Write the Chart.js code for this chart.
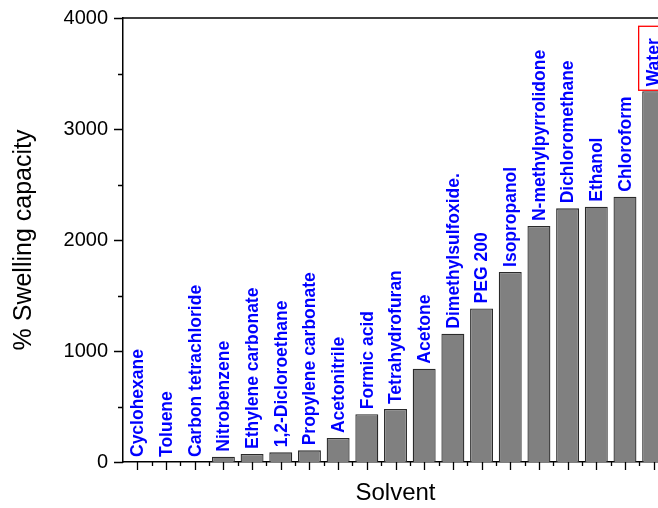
<!DOCTYPE html>
<html>
<head>
<meta charset="utf-8">
<script src="https://cdn.jsdelivr.net/npm/chart.js@4/dist/chart.umd.min.js"></script>
<style>
  html, body { margin: 0; padding: 0; background: #fff; overflow: hidden; width: 658px; height: 508px; }
  #wrap { width: 680px; height: 508px; }
  canvas { display: block; }
</style>
</head>
<body>
<div id="wrap"><canvas id="c" width="680" height="508"></canvas></div>
<script>
const categories = ["Cyclohexane","Toluene","Carbon tetrachloride","Nitrobenzene","Ethylene carbonate","1,2-Dicloroethane","Propylene carbonate","Acetonitrile","Formic acid","Tetrahydrofuran","Acetone","Dimethylsulfoxide.","PEG 200","Isopropanol","N-methylpyrrolidone","Dichloromethane","Ethanol","Chloroform","Water"];
const swelling = [0, 0, 0, 48, 72, 87, 105, 216, 430, 477, 841, 1156, 1384, 1712, 2126, 2285, 2300, 2390, 3340];
const yMajorTicks = [0, 1000, 2000, 3000, 4000];
const yMinorTicks = [500, 1500, 2500, 3500];
const boxedLabels = ["Water"];

const FONT = "'Liberation Sans', Arial, Helvetica, sans-serif";

const decor = {
  id: 'decor',
  afterDraw(chart) {
    const ctx = chart.ctx;
    const ca = chart.chartArea;
    const xs = chart.scales.x, ys = chart.scales.y;
    ctx.save();
    ctx.strokeStyle = '#000';
    ctx.lineWidth = 1.5;
    ctx.beginPath();
    ctx.moveTo(ca.left, ca.top); ctx.lineTo(ca.right, ca.top); ctx.lineTo(ca.right, ca.bottom);
    ctx.stroke();
    ctx.lineWidth = 1.3;
    ctx.beginPath();
    yMajorTicks.forEach(v => { const y = Math.round(ys.getPixelForValue(v)) + 0.5; ctx.moveTo(ca.left - 9, y); ctx.lineTo(ca.left, y); });
    yMinorTicks.forEach(v => { const y = Math.round(ys.getPixelForValue(v)) + 0.5; ctx.moveTo(ca.left - 5, y); ctx.lineTo(ca.left, y); });
    ctx.stroke();
    const c0 = xs.getPixelForValue(0), c1 = xs.getPixelForValue(1);
    const half = (c1 - c0) / 2;
    ctx.beginPath();
    categories.forEach((_, i) => {
      const x = Math.round(xs.getPixelForValue(i)) + 0.5;
      ctx.moveTo(x, ca.bottom); ctx.lineTo(x, ca.bottom + 8);
      const b = Math.round(xs.getPixelForValue(i) + half) + 0.5;
      ctx.moveTo(b, ca.bottom); ctx.lineTo(b, ca.bottom + 4);
    });
    ctx.stroke();
    const meta = chart.getDatasetMeta(0);
    ctx.font = "bold 17.5px " + FONT;
    ctx.fillStyle = '#0000ff';
    ctx.textAlign = 'left';
    ctx.textBaseline = 'middle';
    meta.data.forEach((bar, i) => {
      const x = bar.x;
      const y = ys.getPixelForValue(swelling[i]) - 5;
      const label = categories[i];
      ctx.save();
      ctx.translate(x, y);
      ctx.rotate(-Math.PI / 2);
      ctx.fillText(label, 0, 1);
      ctx.restore();
      if (boxedLabels.includes(label)) {
        const w = ctx.measureText(label).width;
        ctx.save();
        ctx.strokeStyle = '#ff0000';
        ctx.lineWidth = 1.3;
        ctx.strokeRect(x - 15, y - w - 12, 32, w + 16);
        ctx.restore();
      }
    });
    ctx.restore();
  }
};

new Chart(document.getElementById('c'), {
  type: 'bar',
  data: {
    labels: categories,
    datasets: [{
      data: swelling,
      backgroundColor: '#808080',
      borderColor: '#2a2a2a',
      borderWidth: 1.3,
      categoryPercentage: 1.0,
      barPercentage: 0.8
    }]
  },
  options: {
    responsive: false,
    devicePixelRatio: 1,
    animation: false,
    layout: { padding: { top: 18, right: 12, left: 0, bottom: 0 } },
    plugins: { legend: { display: false }, tooltip: { enabled: false } },
    scales: {
      x: {
        type: 'category',
        offset: true,
        grid: { display: false, drawTicks: false },
        border: { display: true, color: '#000', width: 1.5 },
        ticks: { display: false },
        title: { display: true, text: 'Solvent', color: '#000', font: { family: FONT, size: 24 }, padding: 0 },
        afterFit(scale) { scale.height = 46; scale.paddingLeft = 0; scale.paddingRight = 0; }
      },
      y: {
        min: 0, max: 4000,
        grid: { display: false, drawTicks: false },
        border: { display: true, color: '#000', width: 1.5 },
        afterBuildTicks(scale) { scale.ticks = yMajorTicks.map(v => ({ value: v })); },
        ticks: { color: '#000', padding: 15, font: { family: FONT, size: 20 }, callback: v => String(v) },
        title: { display: true, text: '% Swelling capacity', color: '#000', font: { family: FONT, size: 25 }, padding: { top: 9, bottom: 0 } },
        afterFit(scale) { scale.width = 123; scale.paddingTop = 0; scale.paddingBottom = 0; }
      }
    }
  },
  plugins: [decor]
});
</script>
</body>
</html>
